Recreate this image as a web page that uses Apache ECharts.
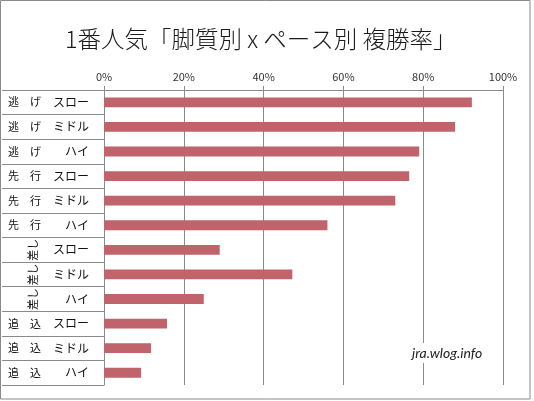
<!DOCTYPE html>
<html><head><meta charset="utf-8">
<script src="https://cdn.jsdelivr.net/npm/echarts@6/dist/echarts.min.js"></script>
<style>html,body{margin:0;padding:0;background:#fff}#c{width:534px;height:401px}</style>
</head><body><div id="c"></div>
<script>
const groups = ['逃げ','逃げ','逃げ','先行','先行','先行','差し','差し','差し','追込','追込','追込'];
const paces = ['スロー','ミドル','ハイ','スロー','ミドル','ハイ','スロー','ミドル','ハイ','スロー','ミドル','ハイ'];
const values = [92.2, 88.0, 79.0, 76.5, 73.0, 56.0, 29.0, 47.2, 25.0, 15.8, 11.8, 9.3];
const xTicks = [0, 20, 40, 60, 80, 100];

const gray = '#8a8a8a';
const font = '"Noto Sans CJK JP", "Noto Sans", sans-serif';
const chart = echarts.init(document.getElementById('c'));
const groupH = groups.map(g => g === '差し' ? '' : g.split('').join('\u3000'));
const groupV = groups.map(g => g === '差し' ? g : '');

chart.setOption({
  animation: false,
  title: {
    text: '1番人気「脚質別 x ペース別 複勝率」',
    left: 60, top: 22,
    textStyle: { fontFamily: font, fontSize: 23.5, fontWeight: 300, color: '#1a1a1a' }
  },
  grid: { left: 104, right: 31, top: 90, bottom: 16 },
  xAxis: {
    type: 'value', position: 'top', min: xTicks[0], max: xTicks[xTicks.length - 1], interval: 20,
    axisLabel: { formatter: '{value}%', fontFamily: font, fontSize: 11, color: '#333', margin: 8 },
    axisLine: { show: true, lineStyle: { color: gray } },
    axisTick: { show: true, length: 4, lineStyle: { color: gray } },
    splitLine: { show: true, lineStyle: { color: gray } }
  },
  yAxis: [
    {
      type: 'category', inverse: true, data: paces,
      axisLine: { show: true, lineStyle: { color: gray } },
      axisTick: { show: true, length: 102, interval: 0, lineStyle: { color: gray } },
      axisLabel: { interval: 0, margin: 15, align: 'right', fontFamily: font, fontSize: 12, color: '#111' }
    },
    {
      type: 'category', inverse: true, data: groupH, position: 'left',
      axisLine: { show: false }, axisTick: { show: false },
      axisLabel: { interval: 0, margin: 96, align: 'left', fontFamily: font, fontSize: 11, color: '#111' }
    },
    {
      type: 'category', inverse: true, data: groupV, position: 'left',
      axisLine: { show: false }, axisTick: { show: false },
      axisLabel: { interval: 0, hideOverlap: false, margin: 66, rotate: 90, fontFamily: font, fontSize: 11, color: '#111' }
    }
  ],
  series: [{
    type: 'bar', yAxisIndex: 0, data: values, barWidth: '40%',
    itemStyle: { color: '#C0636A' }
  }],
  graphic: [
    { type: 'rect', shape: { x: 0.5, y: 0.5, width: 529.5, height: 398.5 },
      style: { fill: 'none', stroke: gray, lineWidth: 1 }, z: 100 },
    { type: 'text', left: 410, top: 343, z: 100,
      style: { text: 'jra.wlog.info', font: 'italic 14px Lato, sans-serif', fill: '#222',
               backgroundColor: '#fff', padding: [3, 2] } }
  ]
});
</script></body></html>
